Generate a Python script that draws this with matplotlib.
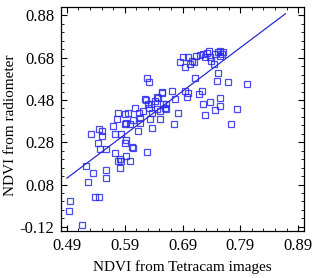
import matplotlib
matplotlib.use("Agg")
import matplotlib.pyplot as plt
import numpy as np
from matplotlib.ticker import FixedLocator

plt.rcParams['font.family'] = ['Liberation Serif', 'DejaVu Serif']

# Data
ndvi_tetracam = [
    0.495, 0.493, 0.516, 0.526, 0.535, 0.523, 0.539, 0.545, 0.558, 0.558,
    0.582, 0.578, 0.599, 0.532, 0.545, 0.551, 0.550, 0.543, 0.547, 0.558,
    0.573, 0.574, 0.570, 0.578, 0.577, 0.590, 0.596, 0.608, 0.615, 0.593,
    0.599, 0.590, 0.584, 0.593, 0.590, 0.602, 0.604, 0.593, 0.582, 0.584,
    0.613, 0.629, 0.627, 0.636, 0.632, 0.642, 0.648, 0.654, 0.656, 0.645,
    0.651, 0.638, 0.634, 0.651, 0.638, 0.616, 0.616, 0.604, 0.622, 0.630,
    0.662, 0.660, 0.723, 0.719, 0.726, 0.738, 0.746, 0.755, 0.729, 0.754,
    0.682, 0.675, 0.671, 0.677, 0.695, 0.698, 0.655, 0.646, 0.625, 0.662,
    0.686, 0.694, 0.690, 0.700, 0.706, 0.709, 0.703, 0.714, 0.720, 0.726,
    0.732, 0.735, 0.738, 0.740, 0.744, 0.746, 0.752, 0.755, 0.758, 0.754,
    0.729, 0.760, 0.712, 0.752, 0.750, 0.768, 0.801, 0.785, 0.773, 0.629,
    0.632, 0.700,
]
ndvi_radiometer = [
    0.004, -0.044, -0.110, 0.094, 0.135, 0.168, 0.023, 0.023, 0.147, 0.109,
    0.156, 0.190, 0.190, 0.318, 0.342, 0.332, 0.309, 0.278, 0.247, 0.247,
    0.230, 0.318, 0.356, 0.416, 0.390, 0.413, 0.420, 0.442, 0.416, 0.373,
    0.366, 0.366, 0.318, 0.290, 0.278, 0.256, 0.251, 0.213, 0.199, 0.190,
    0.332, 0.235, 0.480, 0.461, 0.444, 0.475, 0.490, 0.516, 0.461, 0.437,
    0.428, 0.416, 0.390, 0.390, 0.347, 0.397, 0.373, 0.385, 0.428, 0.461,
    0.461, 0.444, 0.523, 0.509, 0.461, 0.468, 0.432, 0.451, 0.409, 0.490,
    0.416, 0.368, 0.523, 0.485, 0.523, 0.492, 0.511, 0.492, 0.485, 0.437,
    0.659, 0.637, 0.682, 0.682, 0.666, 0.659, 0.649, 0.690, 0.694, 0.697,
    0.701, 0.713, 0.682, 0.663, 0.649, 0.697, 0.706, 0.713, 0.697, 0.690,
    0.685, 0.708, 0.585, 0.606, 0.570, 0.566, 0.554, 0.437, 0.368, 0.585,
    0.563, 0.511,
]
fit_x = [0.49, 0.868]
fit_y = [0.11, 0.888]

x_ticks = [0.49, 0.59, 0.69, 0.79, 0.89]
y_ticks = [-0.12, 0.08, 0.28, 0.48, 0.68, 0.88]

fig = plt.figure(figsize=(3.15, 2.78), dpi=100)
ax = fig.add_axes([0.194, 0.169, 0.771, 0.806])

ax.plot(ndvi_tetracam, ndvi_radiometer, linestyle='none', marker='s',
        markersize=5.0, markerfacecolor='none', markeredgecolor='#2a2af0',
        markeredgewidth=0.9, alpha=0.85)
ax.plot(fit_x, fit_y, color='#2a2ad0', linewidth=0.9)

ax.set_xlim(0.48, 0.90)
ax.set_ylim(-0.14, 0.92)
ax.xaxis.set_major_locator(FixedLocator(x_ticks))
ax.yaxis.set_major_locator(FixedLocator(y_ticks))
ax.xaxis.set_minor_locator(FixedLocator(np.arange(0.49, 0.90, 0.02)))
ax.yaxis.set_minor_locator(FixedLocator(np.arange(-0.12, 0.90, 0.04)))
ax.set_xticklabels([f"{v:.2f}" for v in x_ticks])
ax.set_yticklabels([f"{v:.2f}" for v in y_ticks])

ax.tick_params(which='both', direction='in', top=True, right=True, labelsize=12, color='black')
ax.tick_params(which='major', length=4, width=0.8, pad=5)
ax.tick_params(which='minor', length=2.5, width=0.6)
for s in ax.spines.values():
    s.set_linewidth(0.9)

ax.set_xlabel('NDVI from Tetracam images', fontsize=11)
ax.set_ylabel('NDVI from radiometer', fontsize=11)
ax.xaxis.set_label_coords(0.5, -0.13)
ax.yaxis.set_label_coords(-0.18, 0.47)

fig.savefig('out.png', dpi=100)
